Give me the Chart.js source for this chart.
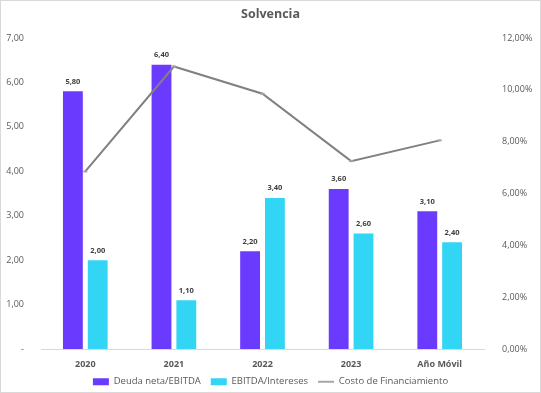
<!DOCTYPE html>
<html lang="es">
<head>
<meta charset="UTF-8">
<title>Solvencia</title>
<style>
  body { margin: 0; background: #fff; }
  #wrap { width: 539px; height: 391px; border: 1px solid #d9d9d9; }
</style>
</head>
<body>
<div id="wrap"><canvas id="solvChart" width="539" height="391"></canvas></div>
<script src="https://cdn.jsdelivr.net/npm/chart.js@4.4.0/dist/chart.umd.min.js"></script>
<script>
  const YEARS = ['2020', '2021', '2022', '2023', 'Año Móvil'];
  const DEUDA_EBITDA = [5.8, 6.4, 2.2, 3.6, 3.1];
  const EBITDA_INTERESES = [2.0, 1.1, 3.4, 2.6, 2.4];
  const COSTO_FIN = [6.85, 10.9, 9.85, 7.25, 8.05];

  const PURPLE = '#6a3bff';
  const CYAN = '#33d5f5';
  const GRAY = '#808080';
  const TXT = '#595959';
  const FONT = "'Open Sans', 'Liberation Sans', sans-serif";

  function fmt(v) {
    return v.toFixed(2).replace('.', ',');
  }

  // etiquetas de valor encima de las barras
  const barLabels = {
    id: 'barLabels',
    afterDatasetsDraw(chart) {
      const ctx = chart.ctx;
      ctx.save();
      ctx.font = "bold 7.5px " + FONT;
      ctx.fillStyle = '#404040';
      ctx.textAlign = 'center';
      ctx.textBaseline = 'bottom';
      chart.data.datasets.forEach((ds, i) => {
        if (ds.type === 'line') return;
        chart.getDatasetMeta(i).data.forEach((bar, j) => {
          ctx.fillText(fmt(ds.data[j]), bar.x, bar.y - 6);
        });
      });
      ctx.restore();
    }
  };

  new Chart(document.getElementById('solvChart'), {
    type: 'bar',
    data: {
      labels: YEARS,
      datasets: [
        {
          type: 'line',
          label: 'Costo de Financiamiento',
          data: COSTO_FIN,
          yAxisID: 'y1',
          borderColor: GRAY,
          backgroundColor: GRAY,
          borderWidth: 2,
          pointRadius: 2,
          pointStyle: 'line',
          pointBackgroundColor: '#a6a6a6',
          pointBorderColor: '#a6a6a6',
          order: 0
        },
        {
          label: 'Deuda neta/EBITDA',
          data: DEUDA_EBITDA,
          yAxisID: 'y',
          backgroundColor: PURPLE,
          pointStyle: 'rect',
          order: 1
        },
        {
          label: 'EBITDA/Intereses',
          data: EBITDA_INTERESES,
          yAxisID: 'y',
          backgroundColor: CYAN,
          pointStyle: 'rect',
          order: 1
        }
      ]
    },
    options: {
      responsive: false,
      animation: false,
      categoryPercentage: 0.56,
      barPercentage: 0.8,
      layout: { padding: { left: 0, right: 0, top: 4, bottom: 0 } },
      plugins: {
        title: {
          display: true,
          text: 'Solvencia',
          color: TXT,
          font: { family: FONT, size: 12.5, weight: 'bold' },
          padding: { top: 2, bottom: 16 }
        },
        legend: {
          position: 'bottom',
          maxHeight: 25,
          labels: {
            usePointStyle: true,
            pointStyleWidth: 16,
            boxHeight: 7,
            color: TXT,
            font: { family: FONT, size: 9.5 },
            padding: 10,
            sort: (a, b) => (a.datasetIndex === 0 ? 1 : 0) - (b.datasetIndex === 0 ? 1 : 0)
          }
        },
        tooltip: { enabled: false }
      },
      scales: {
        x: {
          grid: { display: false },
          border: { color: '#d9d9d9' },
          ticks: {
            color: TXT,
            padding: 2,
            autoSkip: false,
            maxRotation: 0,
            font: { family: FONT, size: 9, weight: 'bold' }
          },
          afterFit: s => { s.height = 18; }
        },
        y: {
          position: 'left',
          min: 0,
          max: 7,
          grid: { display: false },
          border: { display: false },
          ticks: {
            stepSize: 1,
            color: TXT,
            font: { family: FONT, size: 9 },
            padding: 9,
            callback: v => v === 0 ? '-' : fmt(v)
          },
          afterFit: s => { s.width = 40; }
        },
        y1: {
          position: 'right',
          min: 0,
          max: 12,
          grid: { display: false },
          border: { display: false },
          ticks: {
            stepSize: 2,
            color: TXT,
            font: { family: FONT, size: 9 },
            padding: 10,
            callback: v => fmt(v) + '%'
          },
          afterFit: s => { s.width = 56; }
        }
      }
    },
    plugins: [barLabels]
  });
</script>
</body>
</html>
